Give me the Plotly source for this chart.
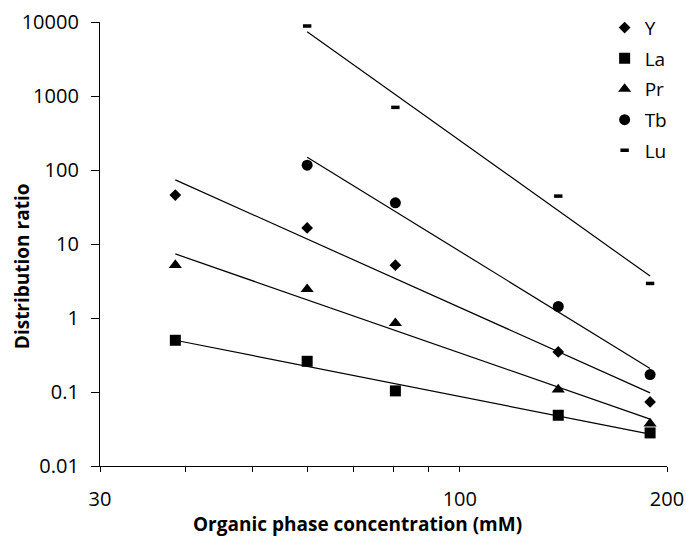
import numpy as np
import plotly.graph_objects as go

# Organic phase concentration (mM)
conc = [38.6, 60, 80.6, 139, 189]

# Distribution ratios per element (None where not measured)
series = {
    "Y":  [45.8, 16.5, 5.17, 0.348, 0.0734],
    "La": [0.50, 0.26, 0.1035, 0.0485, 0.028],
    "Pr": [5.2, 2.45, 0.85, 0.108, 0.0374],
    "Tb": [None, 116, 36, 1.43, 0.172],
    "Lu": [None, 8830, 702, 44.4, 2.93],
}

symbols = {
    "Y": dict(symbol="diamond", size=9),
    "La": dict(symbol="square", size=11),
    "Pr": dict(symbol="triangle-up", size=11.5),
    "Tb": dict(symbol="circle", size=11),
    "Lu": dict(symbol="line-ew", size=6, line=dict(width=3.5, color="black")),
}

x_ticks = [30, 40, 50, 60, 70, 80, 90, 100, 200]
x_labels = ["30", "", "", "", "", "", "", "100", "200"]
y_ticks = [0.01, 0.1, 1, 10, 100, 1000, 10000]
y_labels = ["0.01", "0.1", "1", "10", "100", "1000", "10000"]

FONT = "Open Sans"
fig = go.Figure()

# Power-law trend lines (straight on log-log axes)
for name, vals in series.items():
    xs = np.array([c for c, v in zip(conc, vals) if v is not None], dtype=float)
    ys = np.array([v for v in vals if v is not None], dtype=float)
    k, b = np.polyfit(np.log10(xs), np.log10(ys), 1)
    xl = np.array([xs.min(), xs.max()])
    fig.add_trace(go.Scatter(
        x=xl, y=10 ** (b + k * np.log10(xl)), mode="lines",
        line=dict(color="black", width=1.2), showlegend=False, hoverinfo="skip"))

for name, vals in series.items():
    m = dict(color="black")
    m.update(symbols[name])
    fig.add_trace(go.Scatter(x=conc, y=vals, mode="markers", name=name,
                             legendgroup=name, marker=m))

fig.update_layout(
    width=686, height=537,
    margin=dict(l=100, r=19, t=22, b=71, autoexpand=False),
    paper_bgcolor="white", plot_bgcolor="white",
    font=dict(family=FONT, color="black", size=20),
    showlegend=True,
    legend=dict(x=0.89, y=1.03, xanchor="left", yanchor="top",
                bgcolor="rgba(0,0,0,0)", font=dict(size=19),
                itemwidth=30, tracegroupgap=3),
    xaxis=dict(type="log", range=[np.log10(30), np.log10(200)],
               tickvals=x_ticks, ticktext=x_labels,
               ticks="outside", ticklen=5, tickcolor="black",
               showline=True, linecolor="black", linewidth=1.3,
               showgrid=False, zeroline=False, ticklabelstandoff=10,
               tickfont=dict(size=20), automargin=False),
    yaxis=dict(type="log", range=[-2, 4],
               tickvals=y_ticks, ticktext=y_labels,
               ticks="outside", ticklen=8, tickcolor="black",
               showline=True, linecolor="black", linewidth=1.3,
               showgrid=False, zeroline=False, ticklabelstandoff=8,
               tickfont=dict(size=20), automargin=False),
    annotations=[
        dict(text="<b>Organic phase concentration (mM)</b>",
             xref="paper", yref="paper", x=0.455, y=-0.131,
             xanchor="center", yanchor="middle", showarrow=False,
             font=dict(size=19)),
        dict(text="<b>Distribution ratio</b>", textangle=-90,
             xref="paper", yref="paper", x=-0.1376, y=0.45,
             xanchor="center", yanchor="middle", showarrow=False,
             font=dict(size=19)),
    ],
)

fig.write_html("out.html")
